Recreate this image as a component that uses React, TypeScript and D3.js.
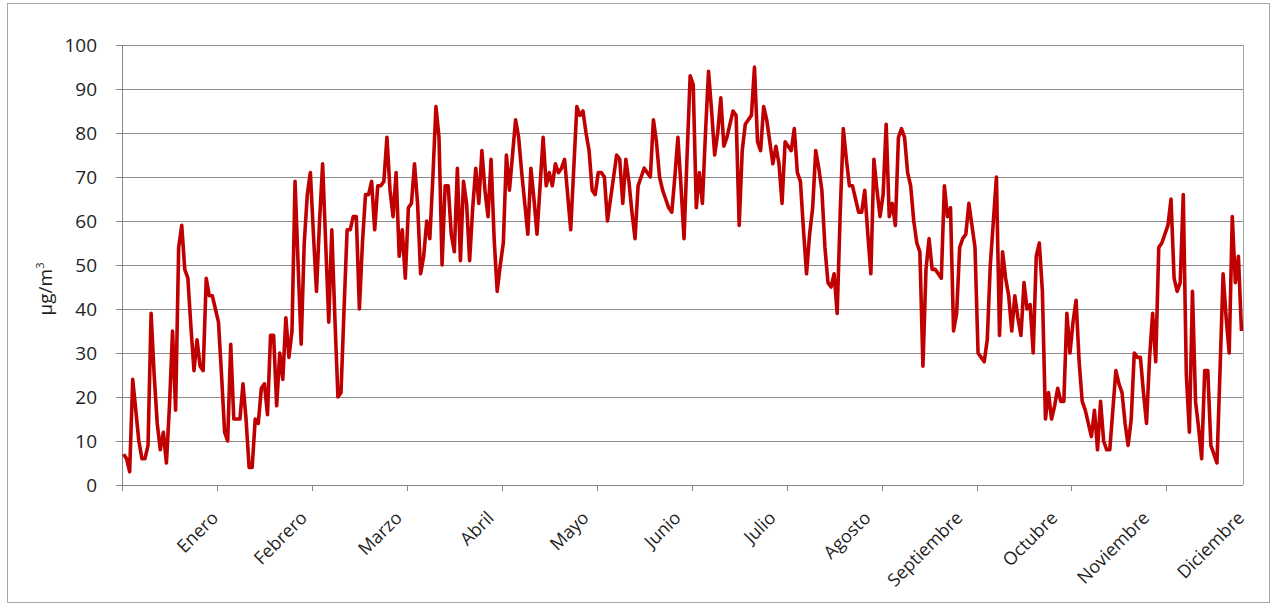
import React from 'react';
import * as d3 from 'd3';

// daily values, µg/m³, one array per month (leap year, 366 days)
const enero = [7, 6, 3, 24, 17, 10, 6, 6, 9, 39, 25, 14, 8, 12, 5, 18, 35, 17, 54, 59, 49, 47, 36, 26, 33, 27, 26, 47, 43, 43, 40];
const febrero = [37, 25, 12, 10, 32, 15, 15, 15, 23, 15, 4, 4, 15, 14, 22, 23, 16, 34, 34, 18, 30, 24, 38, 29, 35, 69, 50, 32, 55];
const marzo = [66, 71, 57, 44, 60, 73, 55, 37, 58, 38, 20, 21, 40, 58, 58, 61, 61, 40, 55, 66, 66, 69, 58, 68, 68, 69, 79, 67, 61, 71, 52];
const abril = [58, 47, 63, 64, 73, 64, 48, 52, 60, 56, 70, 86, 79, 50, 68, 68, 57, 53, 72, 51, 69, 64, 51, 63, 72, 64, 76, 67, 61, 74];
const mayo = [56, 44, 50, 55, 75, 67, 75, 83, 79, 71, 64, 57, 72, 65, 57, 68, 79, 68, 71, 68, 73, 71, 72, 74, 66, 58, 72, 86, 84, 85, 80];
const junio = [76, 67, 66, 71, 71, 70, 60, 65, 70, 75, 74, 64, 74, 69, 62, 56, 68, 70, 72, 71, 70, 83, 78, 70, 67, 65, 63, 62, 70, 79];
const julio = [68, 56, 75, 93, 91, 63, 71, 64, 80, 94, 85, 75, 80, 88, 77, 79, 82, 85, 84, 59, 76, 82, 83, 84, 95, 78, 76, 86, 83, 78, 73];
const agosto = [77, 73, 64, 78, 77, 76, 81, 71, 69, 58, 48, 57, 63, 76, 72, 67, 54, 46, 45, 48, 39, 62, 81, 74, 68, 68, 65, 62, 62, 67, 57];
const septiembre = [48, 74, 67, 61, 66, 82, 61, 64, 59, 79, 81, 79, 71, 68, 60, 55, 53, 27, 49, 56, 49, 49, 48, 47, 68, 61, 63, 35, 39, 54];
const octubre = [56, 57, 64, 59, 54, 30, 29, 28, 33, 50, 60, 70, 34, 53, 47, 43, 35, 43, 38, 34, 46, 40, 41, 30, 52, 55, 44, 15, 21, 15, 18];
const noviembre = [22, 19, 19, 39, 30, 37, 42, 28, 19, 17, 14, 11, 17, 8, 19, 10, 8, 8, 17, 26, 23, 21, 14, 9, 15, 30, 29, 29, 21, 14];
const diciembre = [29, 39, 28, 54, 55, 57, 59, 65, 47, 44, 46, 66, 25, 12, 44, 19, 13, 6, 26, 26, 9, 7, 5, 26, 48, 38, 30, 61, 46, 52, 35];

const months = ['Enero', 'Febrero', 'Marzo', 'Abril', 'Mayo', 'Junio', 'Julio', 'Agosto', 'Septiembre', 'Octubre', 'Noviembre', 'Diciembre'];
const monthData = [enero, febrero, marzo, abril, mayo, junio, julio, agosto, septiembre, octubre, noviembre, diciembre];
const yTicks = [0, 10, 20, 30, 40, 50, 60, 70, 80, 90, 100];
const tickEvery = 31;

const W = 1276;
const H = 607;
const font = '"Open Sans", "Liberation Sans", sans-serif';

export default function App() {
  const values = monthData.flat();
  const n = values.length;
  const left = 122, right = 1243, top = 45, bottom = 485;

  const x = d3.scaleLinear().domain([0, n]).range([left, right]);
  const y = d3.scaleLinear().domain([0, 100]).range([bottom, top]);

  const line = d3.line<number>()
    .x((_, i) => x(i + 0.5))
    .y(d => y(d));

  // month labels sit on the last day of each month
  let acc = 0;
  const labelPos = monthData.map(m => {
    acc += m.length;
    return acc - 1;
  });

  const xTicks = d3.range(0, n + 1, tickEvery);

  return (
    <svg width={W} height={H} style={{ position: 'absolute', left: 0, top: 0, background: '#fff' }}>
      <rect x={7.5} y={3.5} width={1262} height={599} fill="#fff" stroke="#a6a6a6" />

      {/* gridlines */}
      {yTicks.map(t => (
        <line key={t} x1={left} x2={right} y1={Math.round(y(t)) + 0.5} y2={Math.round(y(t)) + 0.5} stroke="#8c8c8c" strokeWidth={1} />
      ))}
      <line x1={right + 0.5} x2={right + 0.5} y1={top} y2={bottom} stroke="#a6a6a6" />

      {/* y axis */}
      <line x1={left + 0.5} x2={left + 0.5} y1={top} y2={bottom} stroke="#868686" />
      {yTicks.map(t => (
        <g key={t}>
          <line x1={left - 6} x2={left} y1={Math.round(y(t)) + 0.5} y2={Math.round(y(t)) + 0.5} stroke="#868686" />
          <text x={97} y={y(t)} dy="0.36em" textAnchor="end" fontFamily={font} fontSize={19} fill="#1f1f1f">{t}</text>
        </g>
      ))}
      <text transform={`translate(52,289) rotate(-90)`} textAnchor="middle" fontFamily={font} fontSize={19} fill="#1f1f1f">
        µg/m<tspan dy={-8} fontSize={11}>3</tspan>
      </text>

      {/* x axis */}
      <line x1={left} x2={right} y1={bottom + 0.5} y2={bottom + 0.5} stroke="#868686" />
      {xTicks.map(t => (
        <line key={t} x1={Math.round(x(t)) + 0.5} x2={Math.round(x(t)) + 0.5} y1={bottom} y2={bottom + 6} stroke="#868686" />
      ))}
      {months.map((m, i) => (
        <text key={m} transform={`translate(${x(labelPos[i] + 0.5) + 4},${bottom + 34}) rotate(-45)`} textAnchor="end" fontFamily={font} fontSize={18} fill="#1f1f1f">{m}</text>
      ))}

      <path d={line(values) ?? ''} fill="none" stroke="#c00000" strokeWidth={3.6} strokeLinejoin="round" />
    </svg>
  );
}
